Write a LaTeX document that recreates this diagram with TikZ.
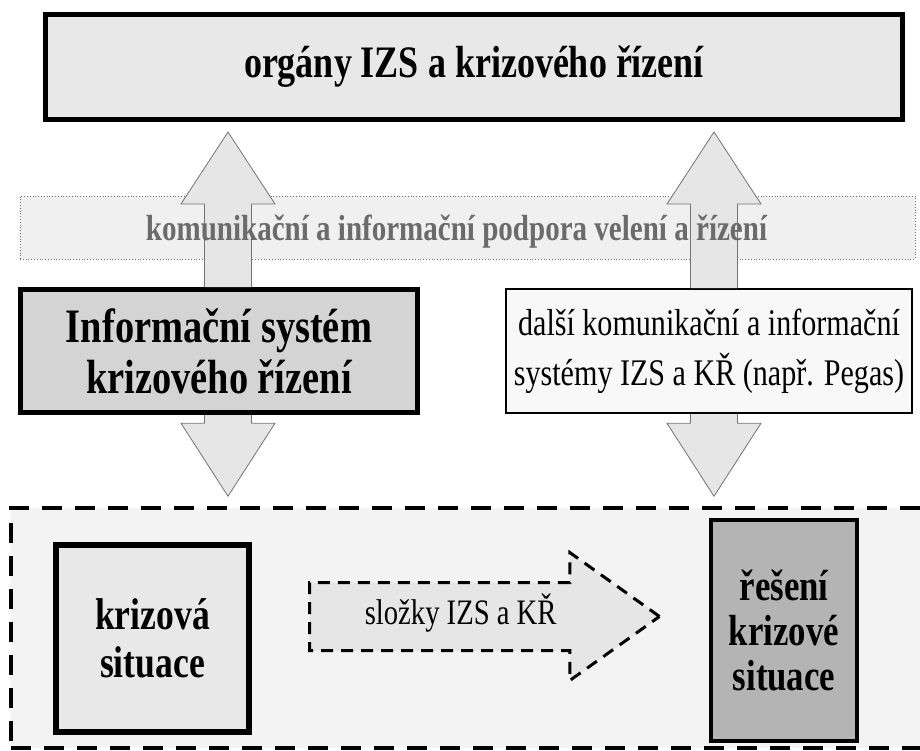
\documentclass[tikz,border=0pt]{standalone}
\usepackage{fontspec}
\setmainfont{Liberation Serif}
\newfontfamily\uzky[FakeStretch=0.8]{Liberation Serif}
\usetikzlibrary{calc,shapes.arrows}
\usepackage{xcolor}
\definecolor{KRTop}{RGB}{232,232,232}
\definecolor{KRBand}{RGB}{240,240,240}
\definecolor{KRSys}{RGB}{212,212,212}
\definecolor{KRLight}{RGB}{248,248,248}
\definecolor{KRField}{RGB}{243,243,243}
\definecolor{KRDark}{RGB}{180,180,180}
\definecolor{KRArrow}{RGB}{230,230,230}

\begin{document}
\begin{tikzpicture}[x=1pt,y=-1pt,box/.style={rectangle,draw=black,align=center,inner sep=0pt},blk/.style={draw=black!55,fill=KRArrow,line width=.8pt,line join=miter}]
\useasboundingbox (0,0) rectangle (920,751);
\node[box,fill=KRTop,line width=5pt,minimum width=857pt,minimum height=105pt,font=\uzky\bfseries\fontsize{45}{50}\selectfont](organy) at (474,67) {orgány IZS a krizového řízení};
\node[box,draw=black!55,dotted,line width=.8pt,fill=KRBand,minimum width=895pt,minimum height=63pt](pasmo) at (467.5,227.5) {};
\node[box,fill=KRSys,line width=5pt,minimum width=397pt,minimum height=123pt,font=\uzky\bfseries\fontsize{48}{51}\selectfont](isk) at (219,351) {Informační systém\\krizového řízení};
\node[box,fill=KRLight,line width=2pt,minimum width=406pt,minimum height=124pt,font=\uzky\fontsize{37.6}{50}\selectfont](dalsi) at (709,351) {další komunikační a informační\\systémy IZS a KŘ (např. Pegas)};
\node[box,fill=KRField,line width=3.5pt,dash pattern=on 20pt off 13pt,minimum width=912pt,minimum height=240pt](pole) at (467,628) {};
\node[box,fill=KRTop,line width=6pt,minimum width=193pt,minimum height=187pt,font=\uzky\bfseries\fontsize{44.5}{48}\selectfont](krize) at (152.5,638.5) {krizová\\situace};
\node[box,fill=KRDark,line width=4pt,minimum width=146pt,minimum height=221pt,font=\uzky\bfseries\fontsize{43.5}{45}\selectfont](reseni) at (784,630.5) {řešení\\krizové\\situace};
\node[single arrow,draw=black,fill=KRArrow,line width=3pt,dash pattern=on 12pt off 8pt,minimum height=350pt,single arrow head extend=30pt,single arrow tip angle=71,inner xsep=0pt,inner ysep=24.5pt,text height=16pt,text depth=0pt,anchor=tail,font=\uzky\fontsize{35.8}{40}\selectfont](slozky) at ($(krize.east)+(56,-22)$) {složky IZS a KŘ};
% nahoru k organum
\foreach \s/\o in {isk/9,dalsi/5}{\draw[blk] let \p1=($(\s.north)+(\o,0)$),\p2=(organy.south) in (\x1-23.5pt,\y1)--(\x1-23.5pt,\y2-82pt)--(\x1-47pt,\y2-82pt)--(\x1,\y2-10pt)--(\x1+47pt,\y2-82pt)--(\x1+23.5pt,\y2-82pt)--(\x1+23.5pt,\y1);}
% dolu do krizove situace
\foreach \s/\o in {isk/9,dalsi/5}{\draw[blk] let \p1=($(\s.south)+(\o,0)$),\p2=(pole.north) in (\x1-23.5pt,\y1)--(\x1-23.5pt,\y2+83pt)--(\x1-47pt,\y2+83pt)--(\x1,\y2+10pt)--(\x1+47pt,\y2+83pt)--(\x1+23.5pt,\y2+83pt)--(\x1+23.5pt,\y1);}
\node[text=black!58,font=\uzky\bfseries\fontsize{36.3}{40}\selectfont](podpora) at ($(pasmo.center)+(-11,4)$) {komunikační a informační podpora velení a řízení};
\end{tikzpicture}
\end{document}
